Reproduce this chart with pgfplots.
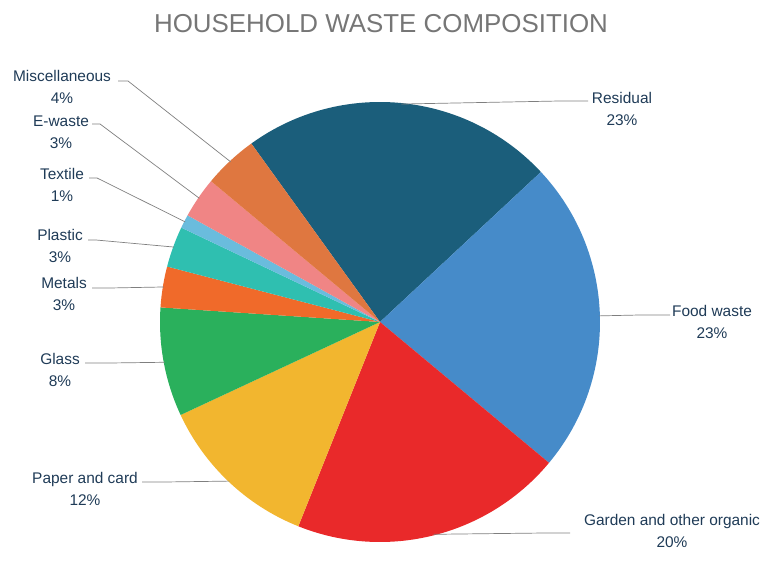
\documentclass[border=0pt]{standalone}
\usepackage{pgfplots}
\pgfplotsset{compat=1.18}
\usepackage{pgfplotstable}
\usepackage{fontspec}
\setmainfont{Liberation Sans}

\definecolor{cResidual}{RGB}{27,94,123}
\definecolor{cFood}{RGB}{70,139,201}
\definecolor{cGarden}{RGB}{233,41,42}
\definecolor{cPaper}{RGB}{242,182,47}
\definecolor{cGlass}{RGB}{42,176,92}
\definecolor{cMetals}{RGB}{240,106,42}
\definecolor{cPlastic}{RGB}{47,191,176}
\definecolor{cTextile}{RGB}{106,188,221}
\definecolor{cEwaste}{RGB}{240,133,133}
\definecolor{cMisc}{RGB}{223,119,64}
\definecolor{labelc}{RGB}{31,59,87}
\definecolor{titlec}{RGB}{118,118,118}
\definecolor{linec}{RGB}{127,127,127}

% slices clockwise from 125.8 deg; positions in picture pixels (y down)
% lx,ly label centre; ex,ey line end at label; kx elbow
\pgfplotstableread[col sep=comma]{
name,value,col,lx,ly,ex,ey,kx
Residual,23,cResidual,622,109,588,101,560
Food waste,23,cFood,712,322,670,315,640
Garden and other organic,20,cGarden,672,531,570,533,545
Paper and card,12,cPaper,85,489,142,482,165
Glass,8,cGlass,60,370,85,363,110
Metals,3,cMetals,64,294,92,288,110
Plastic,3,cPlastic,60,246,88,240,96
Textile,1,cTextile,62,185,89,178,97
E-waste,3,cEwaste,61,132,92,124,100
Miscellaneous,4,cMisc,62,87,118,81,128
}\wastedata

\begin{document}
\begin{tikzpicture}
\begin{axis}[
    x=1bp, y=1bp,
    xmin=0, xmax=763, ymin=0, ymax=551,
    hide axis, clip=false,
]
\path (axis cs:0,0) rectangle (axis cs:763,551);
\node[text=titlec, anchor=base, font=\fontsize{26}{30}\selectfont, inner sep=0]
    at (axis cs:381,518) {HOUSEHOLD WASTE COMPOSITION};

\pgfplotstablegetrowsof{\wastedata}
\pgfmathtruncatemacro\nrows{\pgfplotsretval-1}
\xdef\curang{125.8}
\pgfplotsforeachungrouped \i in {0,...,\nrows} {
    \pgfplotstablegetelem{\i}{name}\of\wastedata \let\name\pgfplotsretval
    \pgfplotstablegetelem{\i}{value}\of\wastedata \let\v\pgfplotsretval
    \pgfplotstablegetelem{\i}{col}\of\wastedata \let\col\pgfplotsretval
    \pgfplotstablegetelem{\i}{lx}\of\wastedata \let\lx\pgfplotsretval
    \pgfplotstablegetelem{\i}{ly}\of\wastedata \pgfmathsetmacro\ly{551-\pgfplotsretval}
    \pgfplotstablegetelem{\i}{ex}\of\wastedata \let\ex\pgfplotsretval
    \pgfplotstablegetelem{\i}{ey}\of\wastedata \pgfmathsetmacro\ey{551-\pgfplotsretval}
    \pgfplotstablegetelem{\i}{kx}\of\wastedata \let\kx\pgfplotsretval
    \pgfmathsetmacro\a{\curang}
    \pgfmathsetmacro\b{\curang-3.6*\v}
    \pgfmathsetmacro\m{(\a+\b)/2}
    \xdef\curang{\b}
    \edef\cmd{%
      \noexpand\fill[\col] (axis cs:380,229) -- ++(\a:220bp)
         arc[start angle=\a, end angle=\b, radius=220bp] -- cycle;
      \noexpand\draw[linec, line width=0.7pt] (axis cs:380,229) ++(\m:219bp)
         -- (axis cs:\kx,\ey) -- (axis cs:\ex,\ey);
      \noexpand\node[text=labelc, align=center, inner sep=0,
         font=\noexpand\fontsize{15.5}{22}\noexpand\selectfont]
         at (axis cs:\lx,\ly) {\name\noexpand\\\v\noexpand\%};
    }
    \cmd
}
\end{axis}
\end{tikzpicture}
\end{document}
